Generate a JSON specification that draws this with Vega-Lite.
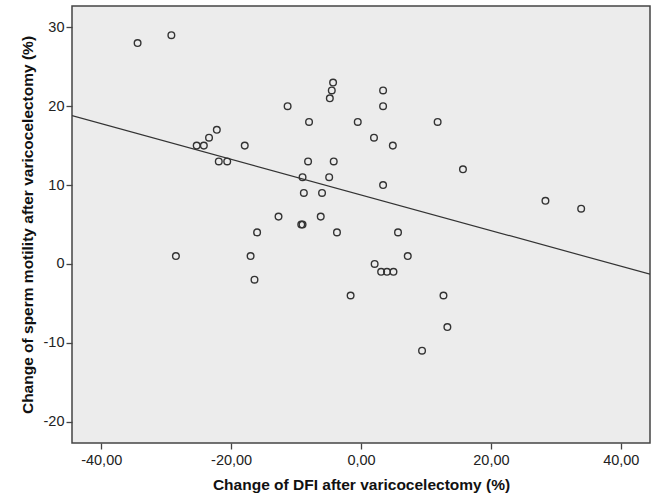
{
  "$schema": "https://vega.github.io/schema/vega-lite/v6.json",
  "width": 578,
  "height": 437,
  "autosize": "none",
  "padding": {"left": 72, "top": 6, "right": 4, "bottom": 53},
  "background": "white",
  "view": {"fill": "#ececec", "stroke": "#444", "strokeWidth": 1.5},
  "datasets": {
    "pts": [
      {"dfi": -34.4, "mot": 28}, {"dfi": -29.2, "mot": 29}, {"dfi": -11.3, "mot": 20},
      {"dfi": -8.0, "mot": 18}, {"dfi": -25.3, "mot": 15}, {"dfi": -24.2, "mot": 15},
      {"dfi": -23.4, "mot": 16}, {"dfi": -22.2, "mot": 17}, {"dfi": -17.9, "mot": 15},
      {"dfi": -21.9, "mot": 13}, {"dfi": -20.6, "mot": 13}, {"dfi": -8.15, "mot": 13},
      {"dfi": -9.0, "mot": 11}, {"dfi": -8.8, "mot": 9}, {"dfi": -6.0, "mot": 9},
      {"dfi": -12.7, "mot": 6}, {"dfi": -6.2, "mot": 6}, {"dfi": -9.2, "mot": 5},
      {"dfi": -9.0, "mot": 5}, {"dfi": -16.0, "mot": 4}, {"dfi": -4.9, "mot": 11},
      {"dfi": -4.3, "mot": 23}, {"dfi": -4.5, "mot": 22}, {"dfi": -4.8, "mot": 21},
      {"dfi": 3.4, "mot": 22}, {"dfi": 3.4, "mot": 20}, {"dfi": -0.5, "mot": 18},
      {"dfi": 11.8, "mot": 18}, {"dfi": 2.0, "mot": 16}, {"dfi": 4.9, "mot": 15},
      {"dfi": -4.2, "mot": 13}, {"dfi": 15.7, "mot": 12}, {"dfi": 3.4, "mot": 10},
      {"dfi": -3.7, "mot": 4}, {"dfi": 5.7, "mot": 4}, {"dfi": 28.4, "mot": 8},
      {"dfi": 33.9, "mot": 7}, {"dfi": -28.5, "mot": 1}, {"dfi": -17.0, "mot": 1},
      {"dfi": -16.4, "mot": -2}, {"dfi": 7.2, "mot": 1}, {"dfi": 2.1, "mot": 0},
      {"dfi": 3.1, "mot": -1}, {"dfi": 4.0, "mot": -1}, {"dfi": 5.0, "mot": -1},
      {"dfi": -1.6, "mot": -4}, {"dfi": 12.7, "mot": -4}, {"dfi": 13.3, "mot": -8},
      {"dfi": 9.4, "mot": -11}
    ],
    "fit": [
      {"dfi": -44.5, "mot": 18.8},
      {"dfi": 44.5, "mot": -1.3}
    ]
  },
  "encoding": {
    "x": {
      "field": "dfi",
      "type": "quantitative",
      "title": "Change of DFI after varicocelectomy (%)",
      "scale": {"domain": [-44.5, 44.5], "nice": false, "zero": false},
      "axis": {
        "values": [-40, -20, 0, 20, 40],
        "labelExpr": "replace(replace(format(datum.value, '.2f'), '.', ','), '\u2212', '-')",
        "grid": false, "domain": false,
        "tickSize": 6, "tickColor": "#444", "tickWidth": 1.3,
        "labelPadding": 4, "labelFontSize": 14.5, "labelColor": "#222",
        "titleFontSize": 15.5, "titleFontWeight": "bold", "titleColor": "#111",
        "titlePadding": 11
      }
    },
    "y": {
      "field": "mot",
      "type": "quantitative",
      "title": "Change of sperm motility after varicocelectomy (%)",
      "scale": {"domain": [-22.7, 32.7], "nice": false, "zero": false},
      "axis": {
        "values": [-20, -10, 0, 10, 20, 30],
        "labelExpr": "replace(format(datum.value, 'd'), '\u2212', '-')",
        "grid": false, "domain": false,
        "tickSize": 6, "tickColor": "#444", "tickWidth": 1.3,
        "labelPadding": 2, "labelFontSize": 14.5, "labelColor": "#222",
        "titleFontSize": 15.5, "titleFontWeight": "bold", "titleColor": "#111",
        "titlePadding": 8
      }
    }
  },
  "layer": [
    {
      "data": {"name": "fit"},
      "mark": {"type": "line", "color": "#333", "strokeWidth": 1.2, "clip": true}
    },
    {
      "data": {"name": "pts"},
      "mark": {"type": "point", "shape": "circle", "filled": false, "color": "#333", "strokeWidth": 1.4, "size": 44, "opacity": 1}
    }
  ],
  "config": {
    "font": "Liberation Sans"
  }
}
